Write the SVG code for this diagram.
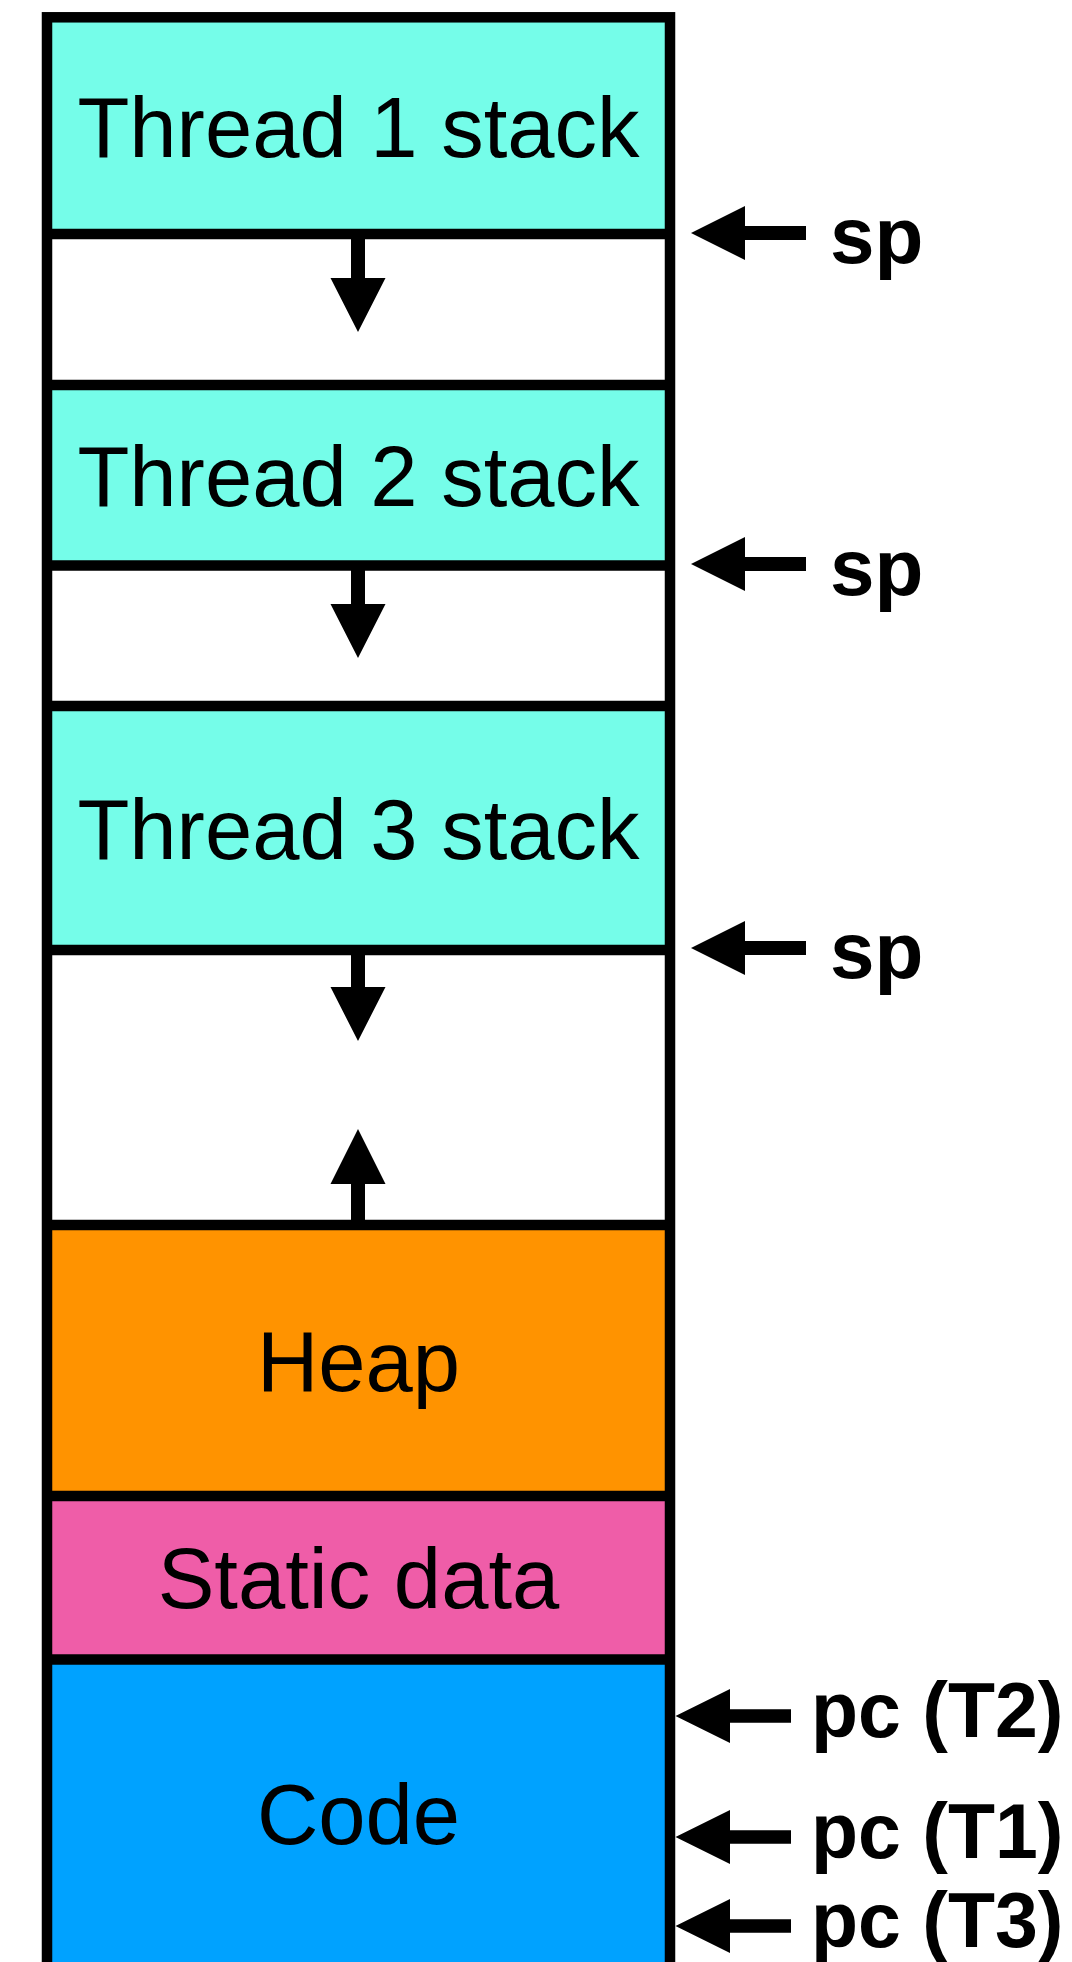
<svg xmlns="http://www.w3.org/2000/svg" width="1072" height="1962" viewBox="0 0 1072 1962">
  <style>
    .lbl { font-family: "Liberation Sans", Arial, Helvetica, sans-serif; font-size: 85px; fill: #000; text-anchor: middle; }
    .ptr { font-family: "Liberation Sans", Arial, Helvetica, sans-serif; font-weight: bold; fill: #000; }
    .sep { stroke: #000; stroke-width: 10.5; fill: none; }
    .arrow { fill: #000; stroke: none; }
    .stack { fill: #75FDE9; }
    .free { fill: #FFFFFF; }
    .heap { fill: #FF9300; }
    .static { fill: #EF5DA8; }
    .code { fill: #00A2FF; }
  </style>
  <rect x="0" y="0" width="1072" height="1962" fill="#FFFFFF"/>

  <g id="thread1-stack">
    <rect class="stack" x="47" y="17" width="623" height="217"/>
    <text class="lbl" x="358.5" y="157">Thread 1 stack</text>
  </g>
  <g id="free1">
    <rect class="free" x="47" y="234" width="623" height="151"/>
  </g>
  <g id="thread2-stack">
    <rect class="stack" x="47" y="385" width="623" height="180"/>
    <text class="lbl" x="358.5" y="506">Thread 2 stack</text>
  </g>
  <g id="free2">
    <rect class="free" x="47" y="565" width="623" height="141"/>
  </g>
  <g id="thread3-stack">
    <rect class="stack" x="47" y="706" width="623" height="244"/>
    <text class="lbl" x="358.5" y="859">Thread 3 stack</text>
  </g>
  <g id="free3">
    <rect class="free" x="47" y="950" width="623" height="275"/>
  </g>
  <g id="heap">
    <rect class="heap" x="47" y="1225" width="623" height="271"/>
    <text class="lbl" x="358.5" y="1391">Heap</text>
  </g>
  <g id="static-data">
    <rect class="static" x="47" y="1496" width="623" height="164"/>
    <text class="lbl" x="358.5" y="1608">Static data</text>
  </g>
  <g id="code">
    <rect class="code" x="47" y="1660" width="623" height="320"/>
    <text class="lbl" x="358.5" y="1844">Code</text>
  </g>

  <g id="borders">
    <line class="sep" x1="47" y1="234" x2="670" y2="234"/>
    <line class="sep" x1="47" y1="385" x2="670" y2="385"/>
    <line class="sep" x1="47" y1="565.5" x2="670" y2="565.5"/>
    <line class="sep" x1="47" y1="706" x2="670" y2="706"/>
    <line class="sep" x1="47" y1="950" x2="670" y2="950"/>
    <line class="sep" x1="47" y1="1225" x2="670" y2="1225"/>
    <line class="sep" x1="47" y1="1496" x2="670" y2="1496"/>
    <line class="sep" x1="47" y1="1659.5" x2="670" y2="1659.5"/>
    <rect class="sep" x="47" y="17.3" width="623" height="1990"/>
  </g>

  <g id="connectors">
    <polygon class="arrow" points="351,234 365,234 365,278 385.5,278 358,332 330.5,278 351,278"/>
    <polygon class="arrow" points="351,565 365,565 365,604 385.5,604 358,658 330.5,604 351,604"/>
    <polygon class="arrow" points="351,950 365,950 365,987 385.5,987 358,1041 330.5,987 351,987"/>
    <polygon class="arrow" points="351,1225 365,1225 365,1184 385.5,1184 358,1129 330.5,1184 351,1184"/>

    <polygon class="arrow" points="691,233 745,206 745,226 806,226 806,240 745,240 745,260"/>
    <polygon class="arrow" points="691,564 745,537 745,557 806,557 806,571 745,571 745,591"/>
    <polygon class="arrow" points="691,948 745,921 745,941 806,941 806,955 745,955 745,975"/>

    <polygon class="arrow" points="675.5,1716 730,1689 730,1709.3 791,1709.3 791,1722.7 730,1722.7 730,1743"/>
    <polygon class="arrow" points="675.5,1837 730,1810 730,1830.3 791,1830.3 791,1843.7 730,1843.7 730,1864"/>
    <polygon class="arrow" points="675.5,1926 730,1899 730,1919.3 791,1919.3 791,1932.7 730,1932.7 730,1953"/>
  </g>

  <g id="pointer-labels">
    <text class="ptr" x="830" y="263" font-size="80">sp</text>
    <text class="ptr" x="830" y="595" font-size="80">sp</text>
    <text class="ptr" x="830" y="978" font-size="80">sp</text>
    <text class="ptr" x="811" y="1737" font-size="77">pc (T2)</text>
    <text class="ptr" x="811" y="1858" font-size="77">pc (T1)</text>
    <text class="ptr" x="811" y="1947" font-size="77">pc (T3)</text>
  </g>
</svg>
